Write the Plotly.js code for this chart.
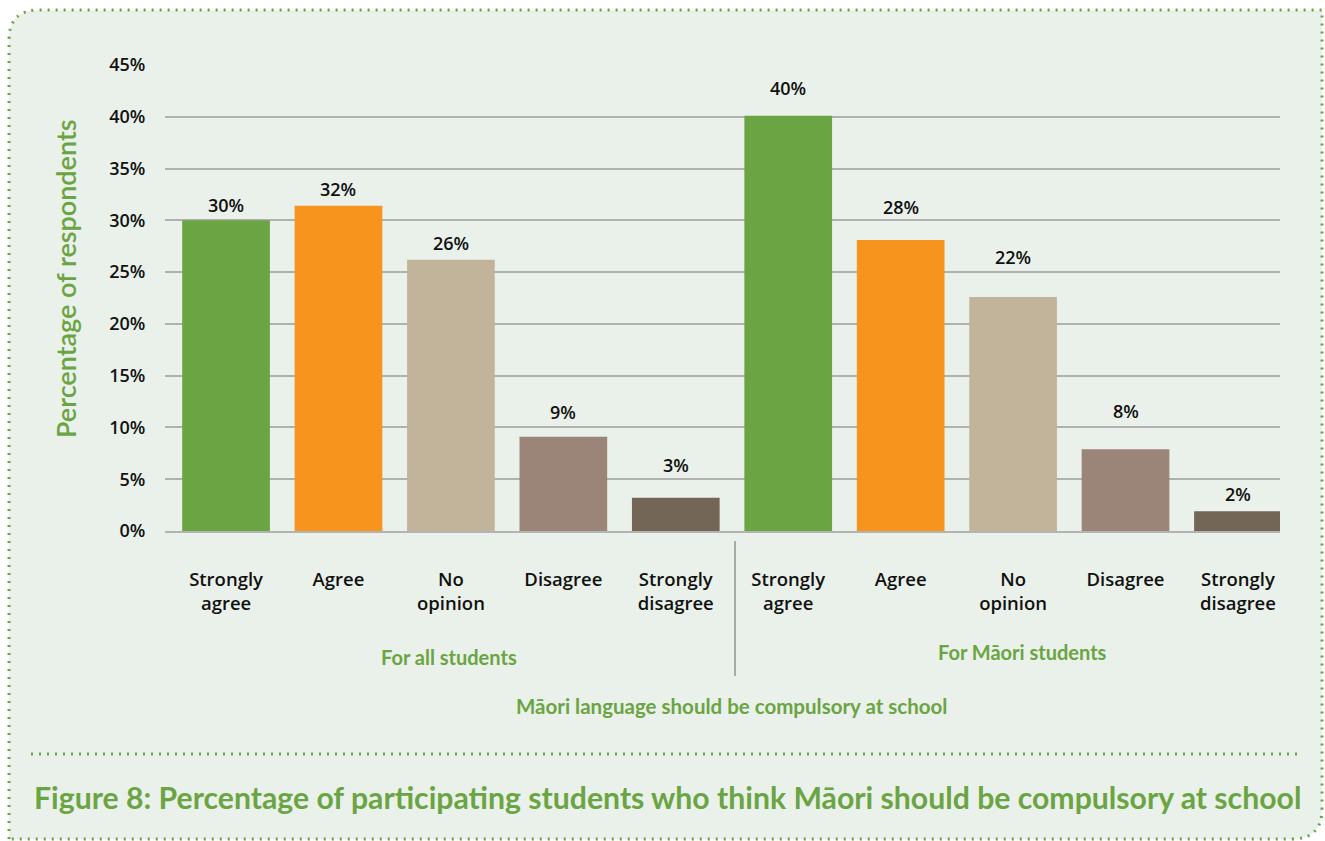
<!DOCTYPE html>
<html>
<head>
<meta charset="utf-8">
<script src="https://cdn.plot.ly/plotly-3.0.1.min.js"></script>
<style>html,body{margin:0;padding:0;background:#fff;}#chart{width:1325px;height:841px;}</style>
</head>
<body>
<div id="chart"></div>
<script>
// ---- data ----
const categories = ["Strongly<br>agree", "Agree", "No<br>opinion", "Disagree", "Strongly<br>disagree",
                    "Strongly<br>agree", "Agree", "No<br>opinion", "Disagree", "Strongly<br>disagree"];
const groups = ["For all students", "For Māori students"];
const values = [30.0, 31.4, 26.2, 9.1, 3.2, 40.1, 28.1, 22.6, 7.9, 1.9];
const valueLabels = ["30%", "32%", "26%", "9%", "3%", "40%", "28%", "22%", "8%", "2%"];
const barColors = ["#6aa443", "#f7941e", "#c2b49a", "#9b8578", "#736657",
                   "#6aa443", "#f7941e", "#c2b49a", "#9b8578", "#736657"];
const yTicks = [0, 5, 10, 15, 20, 25, 30, 35, 40, 45];
const xTitle = "Māori language should be compulsory at school";
const yTitle = "Percentage of respondents";
const figTitle = "Figure 8: Percentage of participating students who think Māori should be compulsory at school";

// ---- layout geometry / styling ----
const W = 1325, H = 841;
const L = 165, R = 45, T = 65, B = 310;
const PW = W - L - R, PH = H - T - B;
const px = v => (v - L) / PW;
const py = v => (H - B - v) / PH;
const green = "#6aa443";
const FONT = "Lato, 'Open Sans', sans-serif";
const BFONT = "'Open Sans', Lato, sans-serif";
// pixel lift of each value label above its bar (as placed in the original)
const labelLift = [1, 3, 3, 11, 19, 14, 19, 26, 24, 3];

const xs = categories.map((c, i) => i);

const trace = {
  type: "bar",
  x: xs,
  y: values,
  width: 0.78,
  marker: {color: barColors},
  hoverinfo: "skip"
};

const valueAnns = xs.map((x, i) => ({
  xref: "x", yref: "y", x: x, y: values[i], text: valueLabels[i], showarrow: false,
  yanchor: "bottom", xanchor: "center", yshift: labelLift[i],
  font: {family: BFONT, size: 18, color: "#111", weight: 600}
}));

// border path (rounded top-left and bottom-right)
const bx0 = px(9), bx1 = px(1322), by0 = py(10), by1 = py(839);
const rx = 30 / PW, ry = 30 / PH;
const borderPath = `M ${bx0},${by1} L ${bx0},${by0 - ry} Q ${bx0},${by0} ${bx0 + rx},${by0} L ${bx1},${by0} L ${bx1},${by1 + ry} Q ${bx1},${by1} ${bx1 - rx},${by1} Z`;

const layout = {
  width: W, height: H,
  margin: {l: L, r: R, t: T, b: B, pad: 0},
  paper_bgcolor: "#ffffff",
  plot_bgcolor: "rgba(0,0,0,0)",
  font: {family: FONT, color: "#111"},
  showlegend: false,
  xaxis: {
    range: [-0.543, 9.374],
    tickvals: xs,
    ticktext: categories,
    tickfont: {family: BFONT, size: 18.5, color: "#111", weight: 600},
    ticks: "outside", ticklen: 31, tickcolor: "rgba(0,0,0,0)",
    showgrid: false, zeroline: false,
    showline: true, linecolor: "#b3b3b3", linewidth: 2,
    fixedrange: true
  },
  yaxis: {
    range: [0, 45],
    tickvals: yTicks,
    ticktext: yTicks.map(v => v + "%"),
    tickfont: {family: BFONT, size: 18, color: "#111", weight: 600},
    ticks: "outside", ticklen: 15, tickcolor: "rgba(0,0,0,0)",
    showgrid: true, gridcolor: "#b0b0b0", gridwidth: 2,
    zeroline: false, showline: false,
    fixedrange: true
  },
  shapes: [
    {type: "path", xref: "paper", yref: "paper", path: borderPath,
     fillcolor: "#eaf1ea", line: {color: green, width: 3, dash: "2px,6px"}, layer: "below"},
    {type: "line", xref: "paper", yref: "paper", x0: px(735), x1: px(735), y0: py(541), y1: py(676),
     line: {color: "#a9a9a9", width: 2}},
    {type: "line", xref: "paper", yref: "paper", x0: px(31), x1: px(1297), y0: py(754), y1: py(754),
     line: {color: green, width: 3, dash: "2px,6px"}}
  ],
  annotations: valueAnns.concat([
    {xref: "paper", yref: "paper", x: px(449), y: py(657), text: groups[0], showarrow: false,
     font: {family: FONT, size: 20, color: green, weight: 700}, xanchor: "center", yanchor: "middle"},
    {xref: "paper", yref: "paper", x: px(1022), y: py(652), text: groups[1], showarrow: false,
     font: {family: FONT, size: 20, color: green, weight: 700}, xanchor: "center", yanchor: "middle"},
    {xref: "paper", yref: "paper", x: px(731), y: py(706), text: xTitle, showarrow: false,
     font: {family: FONT, size: 20.5, color: green, weight: 700}, xanchor: "center", yanchor: "middle"},
    {xref: "paper", yref: "paper", x: px(65), y: py(279), text: yTitle, showarrow: false, textangle: -90,
     font: {family: FONT, size: 27, color: green, weight: 600}, xanchor: "center", yanchor: "middle"},
    {xref: "paper", yref: "paper", x: px(667), y: py(797), text: figTitle, showarrow: false,
     font: {family: FONT, size: 30.2, color: green, weight: 700}, xanchor: "center", yanchor: "middle"}
  ])
};

Plotly.newPlot("chart", [trace], layout, {displayModeBar: false, staticPlot: true});
</script>
</body>
</html>
